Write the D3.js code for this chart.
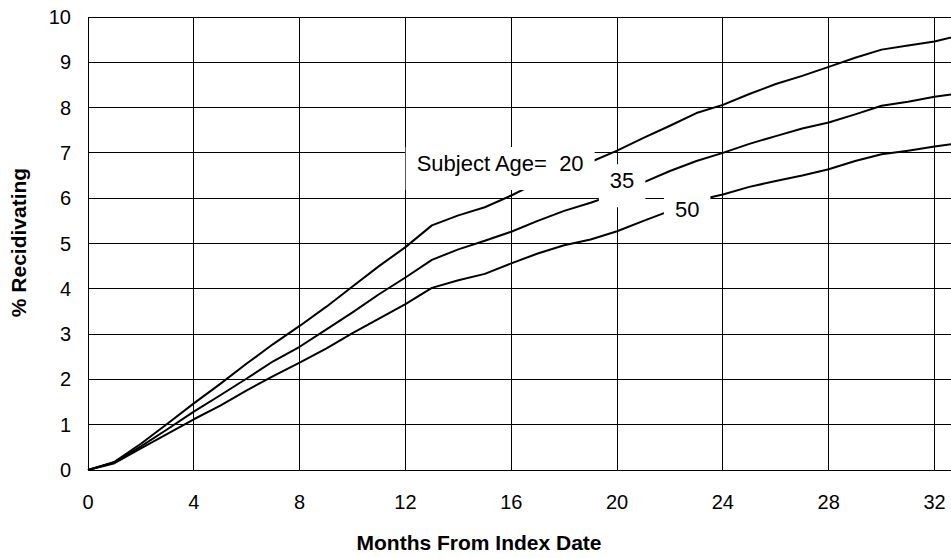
<!DOCTYPE html>
<html>
<head>
    <meta charset="UTF-8">
    <title>Recidivism by age</title>
    <style>
        body { margin: 0; background: #fff; }
        text { font-family: 'Liberation Sans', Arial, sans-serif; fill: #000; }
    </style>
</head>
<body>
    <div id="app"></div>

    <script src="https://d3js.org/d3.v7.min.js"></script>
    <script>
        // months 0..33, % recidivating
        let months = d3.range(0, 34)
        let age20 = [0, 0.18, 0.58, 1.02, 1.47, 1.9, 2.35, 2.78, 3.18, 3.6, 4.05, 4.5, 4.92, 5.4, 5.62, 5.8,
            6.06, 6.35, 6.58, 6.8, 7.05, 7.33, 7.6, 7.88, 8.06, 8.3, 8.52, 8.7, 8.9, 9.1, 9.28, 9.37, 9.46, 9.6]
        let age35 = [0, 0.17, 0.52, 0.9, 1.29, 1.65, 2.02, 2.4, 2.72, 3.1, 3.48, 3.88, 4.25, 4.64, 4.87, 5.06,
            5.26, 5.5, 5.72, 5.9, 6.1, 6.35, 6.6, 6.82, 7.0, 7.2, 7.37, 7.54, 7.67, 7.85, 8.04, 8.13, 8.24, 8.32]
        let age50 = [0, 0.15, 0.48, 0.8, 1.12, 1.42, 1.76, 2.07, 2.37, 2.68, 3.02, 3.34, 3.66, 4.02, 4.19, 4.33,
            4.56, 4.78, 4.96, 5.09, 5.27, 5.5, 5.72, 5.95, 6.08, 6.25, 6.38, 6.5, 6.64, 6.82, 6.97, 7.05, 7.14, 7.22]
        let xTicks = [0, 4, 8, 12, 16, 20, 24, 28, 32]
        let yTicks = [0, 1, 2, 3, 4, 5, 6, 7, 8, 9, 10]

        // curve labels, placed in data units (month, %)
        let labels = [
            { text: 'Subject Age=\u00a0 20', month: 15.58, value: 6.6 },
            { text: '35', month: 20.19, value: 6.22 },
            { text: '50', month: 22.65, value: 5.58 }
        ]

        let W = 951
        let H = 558

        let svg = d3.select('#app').append('svg')
            .attr('width', W)
            .attr('height', H)

        let x = d3.scaleLinear().domain([0, 32]).range([88, 934.5])
        let y = d3.scaleLinear().domain([0, 10]).range([470, 17])

        // grid
        let grid = svg.append('g')
            .attr('stroke', '#000')
            .attr('stroke-width', 1)
            .attr('shape-rendering', 'crispEdges')

        grid.selectAll('.hgrid')
            .data(yTicks).enter()
            .append('line')
            .attr('x1', x(0)).attr('x2', W)
            .attr('y1', d => y(d)).attr('y2', d => y(d))

        grid.selectAll('.vgrid')
            .data(xTicks).enter()
            .append('line')
            .attr('x1', d => x(d)).attr('x2', d => x(d))
            .attr('y1', y(0)).attr('y2', y(10))

        // tick labels
        svg.append('g').selectAll('text')
            .data(yTicks).enter()
            .append('text')
            .attr('x', 71)
            .attr('y', d => y(d))
            .attr('dy', '0.35em')
            .attr('text-anchor', 'end')
            .style('font-size', '20px')
            .text(d => d)

        svg.append('g').selectAll('text')
            .data(xTicks).enter()
            .append('text')
            .attr('x', d => x(d))
            .attr('y', 509)
            .attr('text-anchor', 'middle')
            .style('font-size', '20px')
            .text(d => d)

        // axis titles
        svg.append('text')
            .attr('x', 479)
            .attr('y', 550)
            .attr('text-anchor', 'middle')
            .style('font-size', '21px')
            .style('font-weight', 'bold')
            .text('Months From Index Date')

        svg.append('text')
            .attr('transform', 'translate(26,' + (y(5) - 1) + ') rotate(-90)')
            .attr('text-anchor', 'middle')
            .style('font-size', '21px')
            .style('font-weight', 'bold')
            .text('% Recidivating')

        // curves
        let line = d3.line()
            .x((d, i) => x(months[i]))
            .y(d => y(d))

        svg.append('g').selectAll('path')
            .data([age20, age35, age50]).enter()
            .append('path')
            .attr('d', line)
            .attr('fill', 'none')
            .attr('stroke', '#000')
            .attr('stroke-width', 2)
            .attr('stroke-linejoin', 'round')

        // labels with white boxes over the lines
        let lab = svg.append('g').selectAll('g')
            .data(labels).enter()
            .append('g')

        lab.append('rect').attr('fill', '#fff')
        lab.append('text')
            .attr('x', d => x(d.month))
            .attr('y', d => y(d.value))
            .attr('text-anchor', 'middle')
            .style('font-size', '22px')
            .text(d => d.text)

        lab.each(function(d) {
            let g = d3.select(this)
            let b = g.select('text').node().getBBox()
            g.select('rect')
                .attr('x', b.x - 11)
                .attr('width', b.width + 22)
                .attr('y', y(d.value) - 24)
                .attr('height', 43)
        })
    </script>
</body>
</html>
